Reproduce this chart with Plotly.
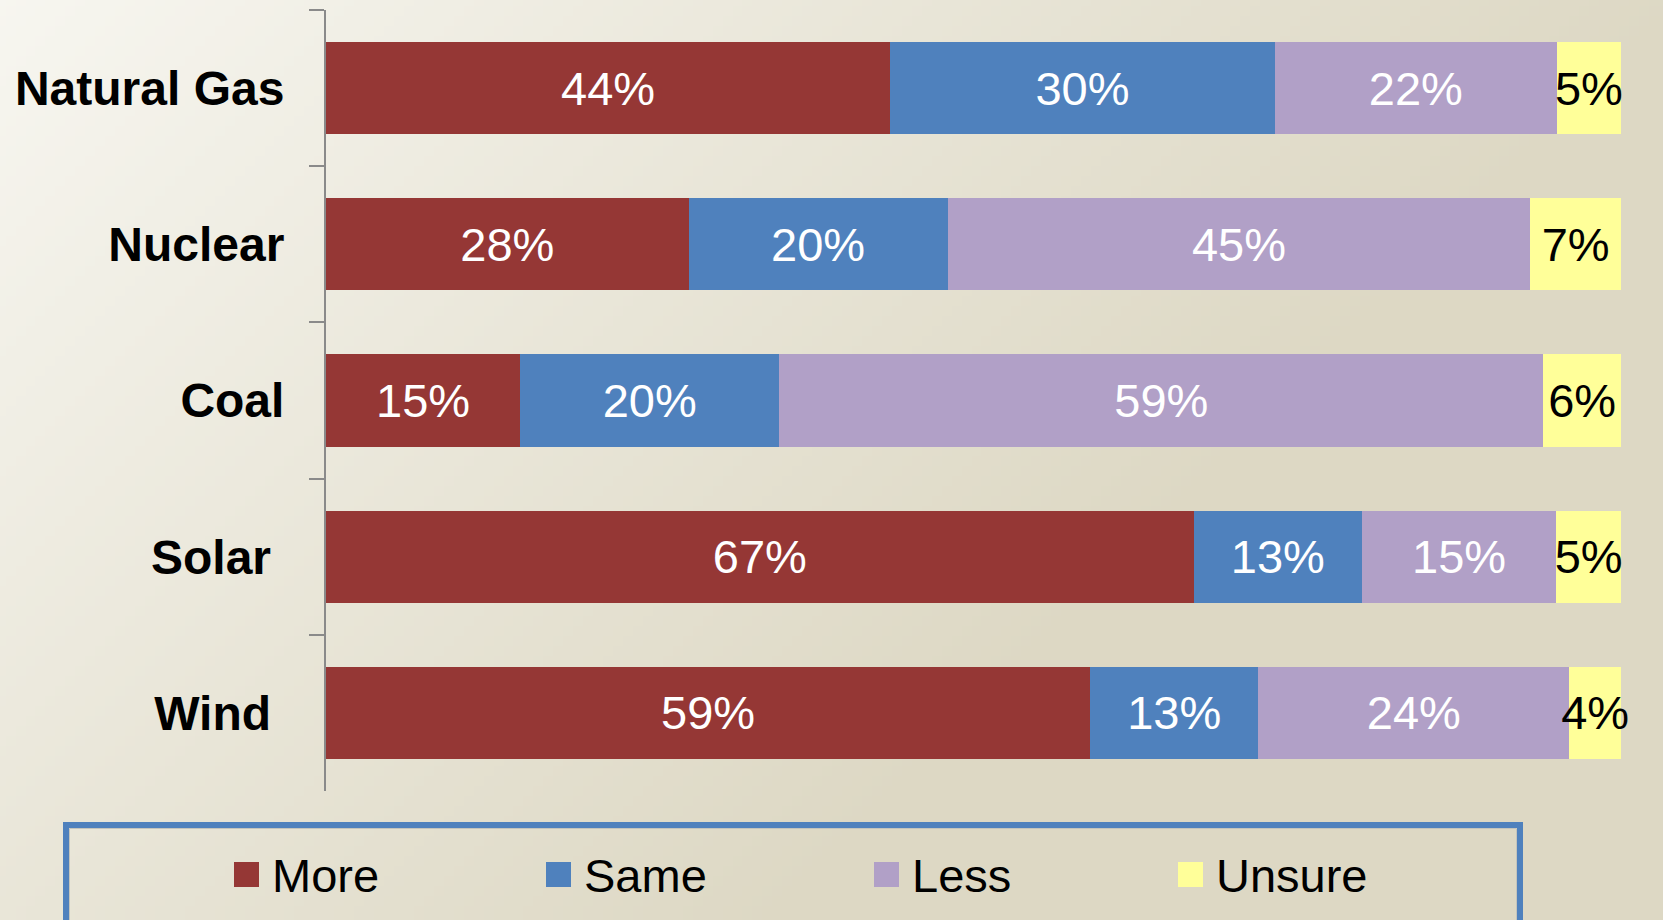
import base64
import struct
import zlib

import plotly.graph_objects as go

# ---------------- data ----------------
categories = ["Natural Gas", "Nuclear", "Coal", "Solar\u00a0", "Wind\u00a0"]
series_names = ["More", "Same", "Less", "Unsure"]
more = [44, 28, 15, 67, 59]
same = [30, 20, 20, 13, 13]
less = [22, 45, 59, 15, 24]
unsure = [5, 7, 6, 5, 4]
series_values = [more, same, less, unsure]

# ---------------- style ----------------
colors = ["#953735", "#4F81BD", "#B1A0C7", "#FFFF99"]
text_colors = ["white", "white", "white", "black"]
FONT = "Liberation Sans, Arial, sans-serif"
W, H = 1663, 920
ML, MR, MT, MB = 326, 42, 10, 129
PW, PH = W - ML - MR, H - MT - MB


def png_gradient(w, h, scale):
    light = (247, 246, 240)
    tan = (221, 216, 196)
    rows = []
    for j in range(h):
        row = bytearray([0])
        for i in range(w):
            t = ((i + 0.5) * scale + (j + 0.5) * scale) / 1700.0
            t = max(0.0, min(1.0, t))
            for k in range(3):
                row.append(int(round(light[k] + (tan[k] - light[k]) * t)))
        rows.append(bytes(row))
    raw = b"".join(rows)

    def chunk(tag, data):
        return (struct.pack(">I", len(data)) + tag + data
                + struct.pack(">I", zlib.crc32(tag + data) & 0xFFFFFFFF))

    return (b"\x89PNG\r\n\x1a\n"
            + chunk(b"IHDR", struct.pack(">IIBBBBB", w, h, 8, 2, 0, 0, 0))
            + chunk(b"IDAT", zlib.compress(raw, 9))
            + chunk(b"IEND", b""))


bg_src = "data:image/png;base64," + base64.b64encode(png_gradient(167, 92, 10)).decode()

fig = go.Figure()
for name, vals, col, tcol in zip(series_names, series_values, colors, text_colors):
    fig.add_trace(go.Bar(
        y=categories,
        x=vals,
        name=name,
        orientation="h",
        marker=dict(color=col, line=dict(width=0)),
        text=[f"{v}%" for v in vals],
        texttemplate="%{text}",
        textposition="inside",
        insidetextanchor="middle",
        textangle=0,
        cliponaxis=False,
        textfont=dict(family=FONT, size=47, color=tcol),
        hoverinfo="skip",
        showlegend=False,
    ))


# paper coords helpers (paper is relative to plot area)
def px(x):
    return (x - ML) / PW


def py(y):
    return 1 - (y - MT) / PH


shapes = [
    dict(type="rect", xref="paper", yref="paper",
         x0=px(66), x1=px(1520), y0=py(825), y1=py(960),
         line=dict(color="#4F81BD", width=6), fillcolor="rgba(0,0,0,0)"),
    dict(type="rect", xref="paper", yref="paper",
         x0=px(69.5), x1=px(1516.5), y0=py(828.5), y1=py(960),
         line=dict(color="#C4C4BC", width=1), fillcolor="rgba(0,0,0,0)"),
]
annotations = []
legend_marker_x = [234, 546, 874, 1178]  # layout positions of legend swatches
for name, col, mx in zip(series_names, colors, legend_marker_x):
    shapes.append(dict(type="rect", xref="paper", yref="paper",
                       x0=px(mx), x1=px(mx + 25), y0=py(887), y1=py(862),
                       line=dict(width=0), fillcolor=col))
    annotations.append(dict(xref="paper", yref="paper", x=px(mx + 36), y=py(875.5),
                            xanchor="left", yanchor="middle", showarrow=False,
                            text=name, font=dict(family=FONT, size=47, color="black")))

fig.update_layout(
    width=W, height=H,
    margin=dict(l=ML, r=MR, t=MT, b=MB, pad=0),
    barmode="stack",
    barnorm="percent",
    bargap=0.41,
    paper_bgcolor="#E6E2D3",
    plot_bgcolor="rgba(0,0,0,0)",
    uniformtext=dict(minsize=47, mode="show"),
    font=dict(family=FONT),
    showlegend=False,
    shapes=shapes,
    annotations=annotations,
    images=[dict(source=bg_src, xref="paper", yref="paper",
                 x=-ML / PW, y=1 + MT / PH, sizex=W / PW, sizey=H / PH,
                 xanchor="left", yanchor="top", sizing="stretch", layer="below")],
    xaxis=dict(range=[0, 100], visible=False, fixedrange=True),
    yaxis=dict(
        type="category",
        categoryorder="array",
        categoryarray=categories,
        range=[4.5, -0.5],
        showline=True, linecolor="#8A8A8A", linewidth=2,
        ticks="outside", tickson="boundaries", ticklen=15, tickwidth=2, tickcolor="#8A8A8A",
        tickfont=dict(family=FONT, size=48, color="black", weight="bold"),
        ticklabelstandoff=30,
        showgrid=False, zeroline=False, fixedrange=True,
    ),
)

fig.write_html("out.html", config={"displayModeBar": False},
               post_script="document.body.style.margin='0';document.body.style.padding='0';")
